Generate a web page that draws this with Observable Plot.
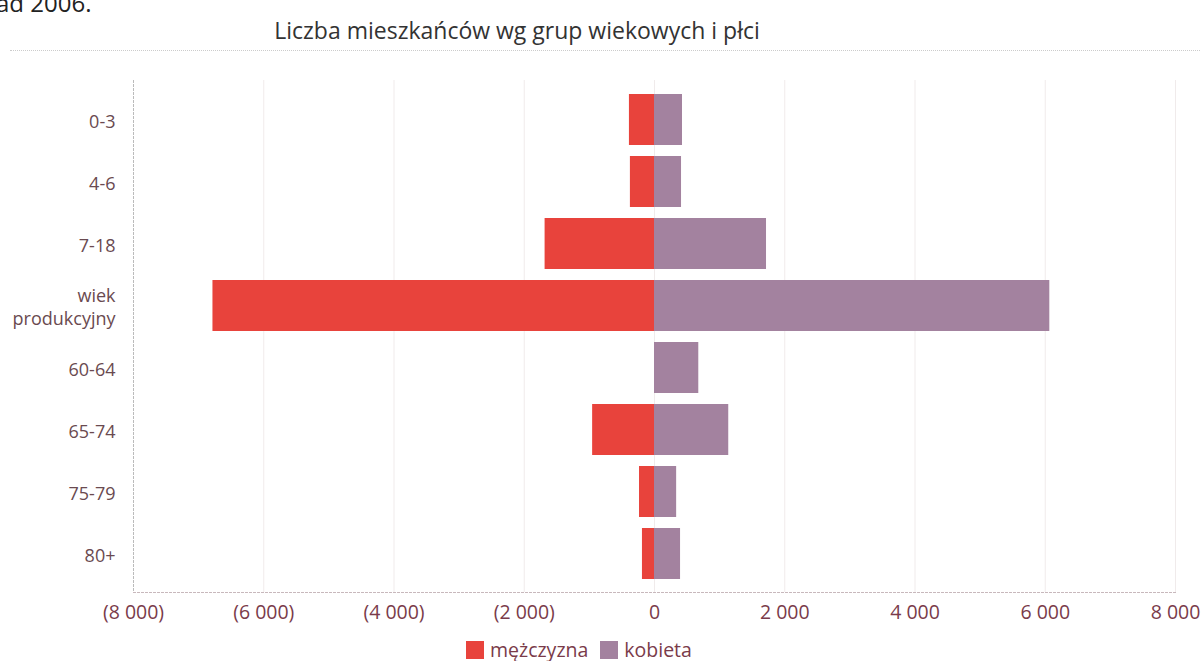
<!DOCTYPE html>
<html><head><meta charset="utf-8">
<script src="https://cdn.jsdelivr.net/npm/d3@7"></script>
<script src="https://cdn.jsdelivr.net/npm/@observablehq/plot@0.6"></script>
<style>
body{margin:0;background:#fff;font-family:"Open Sans",sans-serif;overflow:hidden;width:1204px;height:661px;position:relative}
#doc{position:absolute;left:-4px;top:-14px;font-size:24px;color:#222}
#title{position:absolute;left:0;width:1034px;top:14px;text-align:center;font-size:23px;color:#333}
#sep{position:absolute;left:10px;right:4px;top:50px;border-top:1px dotted #ccc}
#chart{position:absolute;left:0;top:56px}
#legend{position:absolute;top:636px;left:466px;font-size:19.5px;color:#7a3b4a;display:flex;align-items:center;gap:6px}
#legend span.sw{display:inline-block;width:18px;height:18px}
</style></head>
<body>
<div id="doc">ad 2006.</div>
<div id="title">Liczba mieszkańców wg grup wiekowych i płci</div>
<div id="sep"></div>
<div id="chart"></div>
<div id="legend"></div>
<script>
const ageGroups = ["0-3","4-6","7-18","wiek\nprodukcyjny","60-64","65-74","75-79","80+"];
const men   = [385, 370, 1680, 6780, 0, 950, 230, 185];
const women = [430, 415, 1720, 6070, 680, 1140, 340, 400];
const seriesNames = ["mężczyzna","kobieta"];
const seriesColors = ["#e8433c","#a3829f"];
const xTicks = [-8000,-6000,-4000,-2000,0,2000,4000,6000,8000];

const data = [];
ageGroups.forEach((g,i)=>{
  data.push({age:g, sex:seriesNames[0], v:-men[i]});
  data.push({age:g, sex:seriesNames[1], v:women[i]});
});
const grp = d3.formatLocale({decimal:",", thousands:" ", grouping:[3], currency:["",""]}).format(",d");
const fmt = d => d < 0 ? `(${grp(-d)})` : grp(d);

const plot = Plot.plot({
  width:1204, height:575,
  marginLeft:133, marginRight:29, marginTop:24, marginBottom:39,
  style:{fontFamily:"Open Sans, sans-serif", fontSize:"19.5px", color:"#7a3b4a", background:"transparent"},
  x:{domain:[-8000,8000], ticks:xTicks, tickFormat:fmt, label:null, tickSize:0, tickPadding:13},
  y:{domain:ageGroups, label:null, padding:0.18, tickSize:0, tickPadding:18},
  color:{domain:seriesNames, range:seriesColors},
  marks:[
    Plot.gridX(xTicks.filter(t=>t!==-8000), {stroke:"#e6dede", strokeOpacity:0.6}),
    Plot.frame({anchor:"left", stroke:"#bbb", strokeDasharray:"2,2"}),
    Plot.frame({anchor:"bottom", stroke:"#c8b8bc", strokeDasharray:"2,2"}),
    Plot.barX(data, {x1:0, x2:"v", y:"age", fill:"sex"}),
    Plot.axisY({tickSize:0, tickPadding:18, fill:"#6a4a50", fontSize:18, lineHeight:1.3})
  ]
});
document.getElementById("chart").appendChild(plot);

const lg = document.getElementById("legend");
seriesNames.forEach((n,i)=>{
  const s=document.createElement("span"); s.className="sw"; s.style.background=seriesColors[i];
  const t=document.createElement("span"); t.textContent=n; t.style.marginRight="6px";
  lg.appendChild(s); lg.appendChild(t);
});
</script>
</body></html>
